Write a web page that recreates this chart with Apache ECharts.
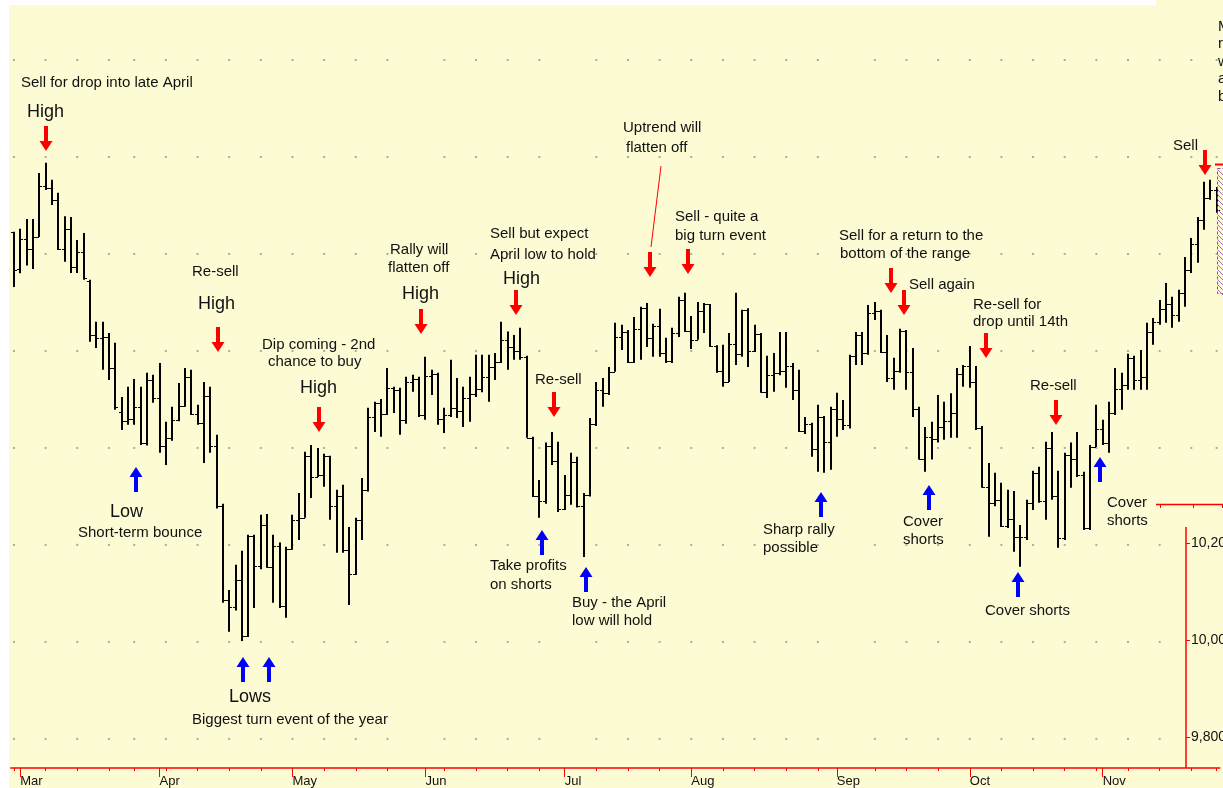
<!DOCTYPE html>
<html>
<head>
<meta charset="utf-8">
<script src="https://cdn.jsdelivr.net/npm/echarts@6/dist/echarts.min.js"></script>
<style>
html,body{margin:0;padding:0;background:#fff;}
#c{width:1223px;height:788px;}
</style>
</head>
<body>
<div id="c"></div>
<script>
// ---- Data (Dow Jones Industrials, daily OHLC, Feb 28 - Nov 28) ----
const startDate = '2005-02-28';
const holidays = ['2005-03-25','2005-05-30','2005-07-04','2005-09-05','2005-11-24'];
const monthAbbr = ['Jan','Feb','Mar','Apr','May','Jun','Jul','Aug','Sep','Oct','Nov','Dec'];
const gridLevels = [9800,10000,10200,10400,10600,10800,11000,11200];

const openP = [10845,10770,10830,10811,10835,10940,10936,10912,10810,10851,10774,10804,10745,10633,10627,10629,10565,10475,10456,10460,
10485,10410,10540,10503,10404,10421,10458,10486,10546,10470,10452,10507,10403,10280,10087,10071,10127,10012,10218,10157,
10242,10155,10198,10075,10192,10251,10256,10384,10340,10345,10384,10281,10300,10189,10140,10252,10313,10464,10493,10471,
10523,10520,10457,10537,10542,10467,10549,10553,10460,10467,10483,10476,10503,10512,10522,10547,10566,10578,10623,10609,
10599,10587,10421,10300,10290,10405,10374,10275,10303,10371,10280,10302,10449,10519,10513,10557,10628,10640,10578,10646,
10689,10627,10651,10596,10580,10637,10705,10641,10623,10683,10697,10610,10558,10536,10615,10594,10685,10600,10634,10516,
10550,10554,10559,10570,10519,10434,10450,10397,10463,10412,10481,10459,10447,10589,10633,10595,10678,10682,10597,10544,
10558,10641,10557,10481,10378,10422,10419,10443,10456,10473,10552,10568,10535,10441,10320,10287,10293,10240,10253,10216,
10216,10287,10348,10290,10400,10300,10215,10385,10377,10344,10235,10402,10440,10410,10472,10522,10530,10586,10540,10546,
10640,10660,10686,10697,10674,10720,10766,10820,10871,10916,10931];
const highP = [10846,10852,10872,10872,10967,10988,10953,10926,10878,10876,10829,10843,10747,10660,10660,10637,10617,10505,10526,10542,
10526,10555,10551,10575,10454,10485,10534,10565,10561,10489,10536,10526,10427,10285,10107,10159,10188,10221,10221,10262,
10264,10221,10205,10196,10262,10307,10392,10406,10400,10388,10384,10314,10324,10237,10256,10338,10483,10495,10501,10565,
10526,10524,10547,10551,10547,10588,10561,10555,10483,10582,10544,10526,10547,10592,10592,10592,10596,10660,10640,10633,
10648,10590,10423,10334,10411,10433,10413,10344,10390,10382,10307,10462,10536,10544,10567,10658,10654,10643,10670,10691,
10699,10656,10687,10627,10648,10712,10720,10672,10701,10699,10697,10612,10613,10637,10720,10685,10688,10654,10637,10590,
10596,10639,10639,10575,10561,10464,10452,10489,10466,10485,10514,10499,10592,10639,10639,10695,10701,10685,10633,10586,
10646,10643,10606,10485,10443,10454,10509,10495,10513,10565,10571,10610,10569,10445,10369,10349,10328,10314,10311,10241,
10293,10353,10361,10413,10433,10353,10390,10411,10433,10351,10406,10489,10458,10495,10565,10555,10594,10590,10602,10658,
10668,10705,10740,10712,10726,10794,10833,10876,10949,10953,10938];
const lowP = [10732,10760,10776,10769,10835,10932,10901,10808,10784,10761,10761,10747,10619,10606,10561,10540,10479,10437,10448,10448,
10406,10405,10493,10390,10365,10415,10455,10485,10468,10448,10369,10390,10275,10081,10021,10065,10002,10010,10070,10150,
10153,10081,10070,10050,10190,10210,10256,10297,10340,10320,10252,10184,10184,10076,10138,10210,10310,10433,10423,10468,
10472,10427,10450,10516,10464,10458,10509,10448,10431,10464,10462,10443,10454,10505,10515,10495,10540,10575,10561,10582,
10582,10421,10299,10256,10285,10365,10268,10272,10283,10277,10175,10300,10445,10485,10509,10557,10602,10575,10575,10582,
10608,10588,10588,10575,10575,10629,10639,10604,10623,10637,10608,10555,10526,10536,10571,10588,10567,10598,10514,10503,
10516,10550,10524,10499,10433,10429,10382,10351,10349,10355,10423,10437,10440,10571,10571,10592,10664,10596,10536,10520,
10555,10520,10464,10376,10351,10376,10411,10417,10421,10421,10526,10524,10437,10318,10217,10280,10237,10235,10186,10155,
10210,10272,10287,10252,10293,10194,10210,10318,10340,10231,10231,10402,10406,10390,10468,10479,10520,10520,10520,10520,
10613,10654,10658,10648,10660,10691,10761,10782,10850,10912,10885];
const closeP = [10766,10830,10811,10834,10940,10936,10912,10810,10851,10774,10804,10750,10633,10627,10629,10565,10485,10456,10460,10485,
10410,10540,10503,10404,10421,10458,10486,10546,10470,10452,10507,10403,10280,10087,10071,10127,10012,10218,10157,10242,
10155,10198,10075,10192,10251,10256,10384,10340,10345,10384,10281,10300,10189,10140,10252,10313,10464,10493,10471,10523,
10520,10457,10537,10542,10467,10549,10553,10460,10467,10483,10476,10503,10512,10522,10547,10566,10578,10623,10609,10599,
10587,10421,10300,10290,10405,10374,10275,10303,10371,10280,10302,10449,10519,10513,10557,10628,10640,10578,10646,10689,
10627,10651,10596,10580,10637,10705,10641,10623,10683,10697,10610,10558,10536,10615,10594,10685,10600,10634,10516,10550,
10554,10559,10570,10519,10434,10450,10397,10463,10412,10481,10459,10447,10589,10633,10595,10678,10682,10597,10544,10558,
10641,10557,10481,10378,10422,10419,10443,10456,10473,10552,10568,10535,10441,10320,10287,10293,10240,10253,10216,10216,
10287,10348,10290,10400,10300,10215,10385,10377,10344,10235,10402,10440,10410,10472,10522,10530,10586,10540,10546,10640,
10660,10686,10697,10674,10720,10766,10820,10871,10916,10931,10890];

// ---- trading-day calendar ----
const dates = [];
(function(){
  const d = new Date(startDate + 'T00:00:00Z');
  while (dates.length < closeP.length) {
    const s = d.toISOString().slice(0,10), dow = d.getUTCDay();
    if (dow !== 0 && dow !== 6 && holidays.indexOf(s) < 0) dates.push(s);
    d.setUTCDate(d.getUTCDate() + 1);
  }
})();
const isMonday = dates.map(s => new Date(s + 'T00:00:00Z').getUTCDay() === 1);
const isMonthStart = dates.map((s,i) => i > 0 && s.slice(5,7) !== dates[i-1].slice(5,7));
const ohlc = dates.map((s,i) => [i, openP[i], highP[i], lowP[i], closeP[i]]);
const dots = [];
dates.forEach((s,i) => { if (isMonday[i]) gridLevels.forEach(v => dots.push([i, v])); });

// ---- annotations (layout) ----
const FONT = '"Liberation Sans", Arial, sans-serif';
const notes = [
 ['Sell for drop into late April',21,83,15],['High',27,112,18],
 ['Re-sell',192,272,15],['High',198,304,18],
 ['Dip coming - 2nd',262,345,15],['chance to buy',268,362,15],['High',300,388,18],
 ['Rally will',390,250,15],['flatten off',388,268,15],['High',402,294,18],
 ['Sell but expect',490,234,15],['April low to hold',490,255,15],['High',503,279,18],
 ['Re-sell',535,380,15],
 ['Uptrend will',623,128,15],['flatten off',626,148,15],
 ['Sell - quite a',675,217,15],['big turn event',675,236,15],
 ['Sell for a return to the',839,236,15],['bottom of the range',840,254,15],
 ['Sell again',909,285,15],
 ['Re-sell for',973,305,15],['drop until 14th',973,322,15],
 ['Re-sell',1030,386,15],['Sell',1173,146,15],
 ['Low',110,512,18],['Short-term bounce',78,533,15],
 ['Lows',229,697,18],['Biggest turn event of the year',192,720,15],
 ['Take profits',490,566,15],['on shorts',490,585,15],
 ['Buy - the April',572,603,15],['low will hold',572,621,15],
 ['Sharp rally',763,530,15],['possible',763,548,15],
 ['Cover',903,522,15],['shorts',903,540,15],
 ['Cover shorts',985,611,15],
 ['Cover',1107,503,15],['shorts',1107,521,15],
 ['Market',1218,27,15],['rally',1218,44,15],['will',1218,62,15],['and',1218,79,15],['back',1218,97,15]
];
const redArrows = [[46,126],[218,327],[319,407],[421,309],[516,290],[554,392],[650,252],[688,249],[891,268],[904,290],[986,333],[1056,400],[1205,150]];
const blueArrows = [[136,467],[243,657],[269,657],[542,530],[586,567],[821,492],[929,485],[1018,572],[1100,457]];

const RED = '#ff0000', BLUE = '#0000ff', BG = '#fcfbd4';
const gfx = [];
// white frame strips
gfx.push({type:'rect', shape:{x:0,y:0,width:9,height:788}, style:{fill:'#fff'}, z:100});
gfx.push({type:'rect', shape:{x:0,y:0,width:1156,height:5}, style:{fill:'#fff'}, z:100});
// inset panel cover + red inset axes
gfx.push({type:'rect', shape:{x:1168,y:506,width:60,height:261}, style:{fill:BG}, z:50});
gfx.push({type:'line', shape:{x1:1156,y1:504.5,x2:1223,y2:504.5}, style:{stroke:RED,lineWidth:1.5}, z:60});
[1160,1193,1222].forEach(x => gfx.push({type:'line', shape:{x1:x+0.5,y1:504,x2:x+0.5,y2:508}, style:{stroke:RED,lineWidth:1}, z:60}));
gfx.push({type:'line', shape:{x1:1186,y1:527,x2:1186,y2:768}, style:{stroke:RED,lineWidth:1.5}, z:60});
[[543,'10,200'],[640,'10,000'],[737,'9,800']].forEach(([y,t]) => {
  gfx.push({type:'line', shape:{x1:1186,y1:y+0.5,x2:1190,y2:y+0.5}, style:{stroke:RED,lineWidth:1}, z:60});
  gfx.push({type:'text', x:1191, y:y, style:{text:t, font:'14px '+FONT, fill:'#111', textVerticalAlign:'middle'}, z:60});
});
// top-right overlay pieces
gfx.push({type:'line', shape:{x1:1215,y1:164.5,x2:1223,y2:164.5}, style:{stroke:RED,lineWidth:2}, z:60});
gfx.push({type:'rect', shape:{x:1217.5,y:168.5,width:8,height:125}, style:{fill:'none', stroke:'#9b3fc0', lineWidth:1, lineDash:[3,2]}, z:60});
for (let y = 170; y < 292; y += 5) gfx.push({type:'line', shape:{x1:1218,y1:y,x2:1223,y2:y+5}, style:{stroke:'#b068d0',lineWidth:1}, z:60});
// thin red pointer line
gfx.push({type:'line', shape:{x1:661,y1:166,x2:651,y2:247}, style:{stroke:RED,lineWidth:1}, z:60});
// texts
notes.forEach(([t,x,y,s]) => gfx.push({type:'text', x:x, y:y, style:{text:t, font:s+'px '+FONT, fill:'#111', textVerticalAlign:'middle'}, z:60}));
// arrows
function down(cx, top, color){
  return {type:'polygon', shape:{points:[[cx-2,top],[cx+2,top],[cx+2,top+15],[cx+6.5,top+15],[cx,top+25],[cx-6.5,top+15],[cx-2,top+15]]}, style:{fill:color}, z:60};
}
function up(cx, top, color){
  return {type:'polygon', shape:{points:[[cx,top],[cx+6.5,top+10],[cx+2,top+10],[cx+2,top+25],[cx-2,top+25],[cx-2,top+10],[cx-6.5,top+10]]}, style:{fill:color}, z:60};
}
redArrows.forEach(([x,y]) => gfx.push(down(x,y,RED)));
blueArrows.forEach(([x,y]) => gfx.push(up(x,y,BLUE)));

function renderOHLC(params, api){
  const i = api.value(0);
  const o = api.coord([i, api.value(1)]);
  const h = api.coord([i, api.value(2)]);
  const l = api.coord([i, api.value(3)]);
  const c = api.coord([i, api.value(4)]);
  const x = Math.round(o[0]);
  const oy = Math.round(o[1]) + 0.5, cy = Math.round(c[1]) + 0.5;
  return {type:'group', children:[
    {type:'line', shape:{x1:x, y1:h[1], x2:x, y2:l[1]}, style:{stroke:'#000', lineWidth:2}},
    {type:'line', shape:{x1:x-3, y1:oy, x2:x, y2:oy}, style:{stroke:'#000', lineWidth:1}},
    {type:'line', shape:{x1:x, y1:cy, x2:x+3, y2:cy}, style:{stroke:'#000', lineWidth:1}}
  ]};
}

const chart = echarts.init(document.getElementById('c'), null, {renderer:'canvas'});
chart.setOption({
  backgroundColor: BG,
  animation: false,
  grid: {left: 10.8, right: 3.2, top: 5, bottom: 20},
  xAxis: [
    {type:'category', data: dates, boundaryGap: true,
     axisLine:{show:true, lineStyle:{color:RED, width:1.5}},
     axisTick:{show:true, alignWithLabel:true, interval:(i)=>isMonday[i], length:3, lineStyle:{color:RED, width:1}},
     axisLabel:{show:false}, splitLine:{show:false}},
    {type:'category', data: dates, boundaryGap: true, position:'bottom',
     axisLine:{show:false},
     axisTick:{show:true, alignWithLabel:true, interval:(i)=>isMonthStart[i], length:9, lineStyle:{color:RED, width:1}},
     axisLabel:{show:true, interval:(i)=>isMonthStart[i], formatter:(v)=>monthAbbr[parseInt(v.slice(5,7),10)-1],
       align:'left', margin:7, color:'#111', fontSize:13, fontFamily:'Liberation Sans, Arial, sans-serif'},
     splitLine:{show:false}}
  ],
  yAxis: {type:'value', min:9740, max:11313.4, show:false, splitLine:{show:false}},
  series: [
    {type:'scatter', data: dots, symbol:'rect', symbolSize:2, itemStyle:{color:'#9a9a88'}, silent:true, z:1},
    {type:'custom', data: ohlc, renderItem: renderOHLC, encode:{x:0, y:[1,2,3,4]}, z:3}
  ],
  graphic: gfx
});
</script>
</body>
</html>
